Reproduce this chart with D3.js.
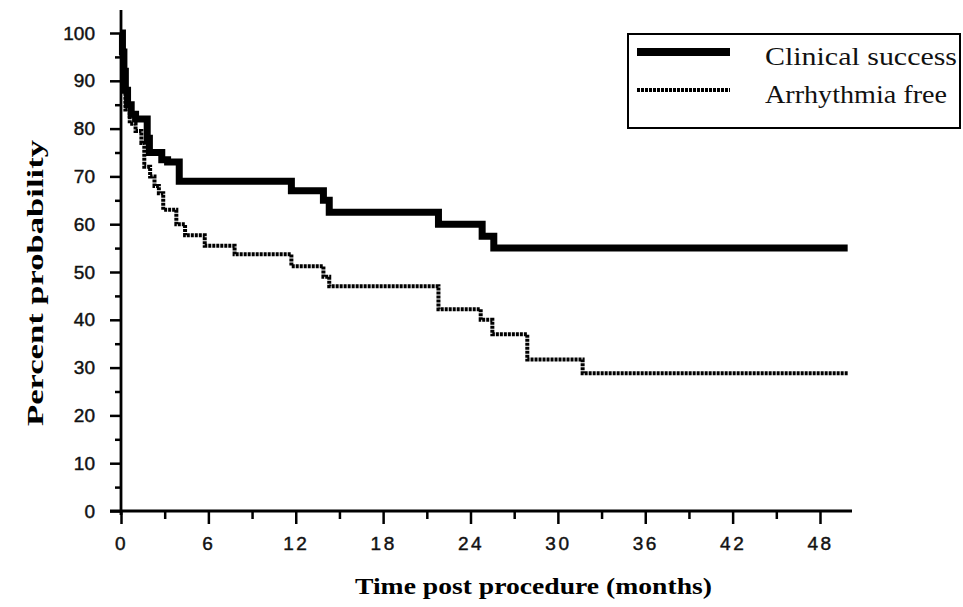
<!DOCTYPE html>
<html>
<head>
<meta charset="utf-8">
<script src="https://cdn.jsdelivr.net/npm/d3@7/dist/d3.min.js"></script>
<style>
  html, body { margin: 0; padding: 0; background: #fff; }
  svg { display: block; }
</style>
</head>
<body>
<svg id="chart" width="963" height="607"></svg>
<script>
// ---- data (months, percent probability), Kaplan-Meier step points ----
const clinicalTime  = [0, 0.1, 0.2, 0.3, 0.45, 0.7, 1.0, 1.8, 1.95, 2.8, 3.2, 4.0, 11.7, 13.9, 14.3, 21.8, 24.8, 25.6, 49.9];
const clinicalValue = [100, 96, 92, 88, 85, 83, 82, 78, 75, 73.5, 73, 69, 67, 65, 62.5, 60, 57.5, 55, 55];

const arrhythmiaTime  = [0, 0.1, 0.3, 0.6, 1.0, 1.4, 1.6, 2.0, 2.3, 2.6, 2.9, 3.8, 4.4, 5.75, 7.8, 11.7, 13.9, 14.3, 21.8, 24.7, 25.5, 27.9, 31.7, 49.9];
const arrhythmiaValue = [100, 90, 84, 81, 79.5, 77, 72, 70, 68, 66.5, 63, 60, 57.7, 55.5, 53.7, 51.2, 49, 47, 42.2, 40, 37, 31.7, 28.8, 28.8];

const seriesNames = ["Clinical success", "Arrhythmia free"];
const xTicks = [0, 6, 12, 18, 24, 30, 36, 42, 48];
const xMinorTicks = [3, 9, 15, 21, 27, 33, 39, 45];
const yTicks = [0, 10, 20, 30, 40, 50, 60, 70, 80, 90, 100];
const yMinorTicks = [5, 15, 25, 35, 45, 55, 65, 75, 85, 95];
const xTitle = "Time post procedure (months)";
const yTitle = "Percent probability";

// ---- layout ----
const svg = d3.select("#chart");
const x = d3.scaleLinear().domain([0, 48]).range([121, 820]);
const y = d3.scaleLinear().domain([0, 100]).range([511, 33]);

// axes lines
svg.append("line").attr("x1", 110).attr("x2", 852).attr("y1", y(0)).attr("y2", y(0))
  .attr("stroke", "#000").attr("stroke-width", 2.8);
svg.append("line").attr("x1", x(0)).attr("x2", x(0)).attr("y1", 10).attr("y2", 515)
  .attr("stroke", "#000").attr("stroke-width", 2.8);

function styleAxis(g) {
  g.select(".domain").remove();
  g.selectAll(".tick line").attr("stroke", "#000").attr("stroke-width", 2.5);
}

// y axis major
svg.append("g").attr("transform", `translate(${x(0)},0)`)
  .call(d3.axisLeft(y).tickValues(yTicks).tickSize(11).tickPadding(15).tickFormat(d3.format("d")))
  .call(styleAxis)
  .selectAll("text")
  .attr("font-family", "'Liberation Sans', Arial, sans-serif")
  .attr("font-size", 19).attr("fill", "#111")
  .attr("stroke", "#111").attr("stroke-width", 0.45);
// y axis minor
svg.append("g").attr("transform", `translate(${x(0)},0)`)
  .call(d3.axisLeft(y).tickValues(yMinorTicks).tickSize(6).tickFormat(""))
  .call(styleAxis);

// x axis major
svg.append("g").attr("transform", `translate(0,${y(0)})`)
  .call(d3.axisBottom(x).tickValues(xTicks).tickSize(13).tickPadding(13).tickFormat(d3.format("d")))
  .call(styleAxis)
  .selectAll("text")
  .attr("font-family", "'Liberation Sans', Arial, sans-serif")
  .attr("font-size", 19).attr("letter-spacing", 2.5).attr("fill", "#111")
  .attr("stroke", "#111").attr("stroke-width", 0.45);
// x axis minor
svg.append("g").attr("transform", `translate(0,${y(0)})`)
  .call(d3.axisBottom(x).tickValues(xMinorTicks).tickSize(8).tickFormat(""))
  .call(styleAxis);

// curves
const line = d3.line().x(d => x(d[0])).y(d => y(d[1])).curve(d3.curveStepAfter);
const clinical = d3.zip(clinicalTime, clinicalValue);
const arrhythmia = d3.zip(arrhythmiaTime, arrhythmiaValue);

svg.append("path").datum(arrhythmia).attr("d", line)
  .attr("fill", "none").attr("stroke", "#000").attr("stroke-width", 4)
  .attr("stroke-dasharray", "3,1");
svg.append("path").datum(clinical).attr("d", line)
  .attr("fill", "none").attr("stroke", "#000").attr("stroke-width", 7)
  .attr("stroke-linejoin", "miter");

// titles
svg.append("text").attr("x", 355).attr("y", 594)
  .attr("font-family", "'Liberation Serif', 'Times New Roman', serif")
  .attr("font-weight", "bold").attr("font-size", 23)
  .attr("textLength", 357).attr("lengthAdjust", "spacingAndGlyphs")
  .text(xTitle);

svg.append("text").attr("transform", "translate(43,426) rotate(-90)")
  .attr("font-family", "'Liberation Serif', 'Times New Roman', serif")
  .attr("font-weight", "bold").attr("font-size", 23)
  .attr("textLength", 286).attr("lengthAdjust", "spacingAndGlyphs")
  .text(yTitle);

// legend
const lg = svg.append("g");
lg.append("rect").attr("x", 628).attr("y", 34).attr("width", 332).attr("height", 94)
  .attr("fill", "#fff").attr("stroke", "#000").attr("stroke-width", 2);
lg.append("line").attr("x1", 637).attr("x2", 730).attr("y1", 52).attr("y2", 52)
  .attr("stroke", "#000").attr("stroke-width", 8);
lg.append("line").attr("x1", 637).attr("x2", 730).attr("y1", 90).attr("y2", 90)
  .attr("stroke", "#000").attr("stroke-width", 4).attr("stroke-dasharray", "3,1");
lg.selectAll("text.leg").data(seriesNames).enter().append("text")
  .attr("class", "leg")
  .attr("x", 765).attr("y", (d, i) => i === 0 ? 65 : 103)
  .attr("font-family", "'Liberation Serif', 'Times New Roman', serif")
  .attr("font-size", 26)
  .attr("textLength", (d, i) => i === 0 ? 192 : 182).attr("lengthAdjust", "spacingAndGlyphs")
  .attr("fill", "#111")
  .text(d => d);
</script>
</body>
</html>
